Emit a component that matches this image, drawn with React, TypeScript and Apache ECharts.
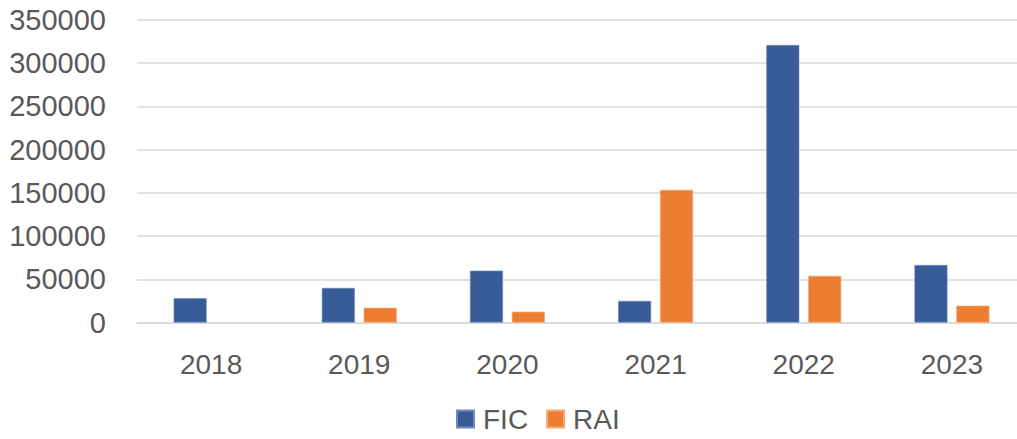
import React, { useEffect, useRef } from "react";
import * as echarts from "echarts";

const categories = ["2018", "2019", "2020", "2021", "2022", "2023"];
const ficValues = [28000, 40000, 60000, 25000, 321000, 66500];
const raiValues = [null, 17000, 12500, 153500, 54000, 19500];
const yTicks = [0, 50000, 100000, 150000, 200000, 250000, 300000, 350000];

export default function App() {
  const ref = useRef<HTMLDivElement>(null);
  useEffect(() => {
    if (!ref.current) return;
    const chart = echarts.init(ref.current, null, { renderer: "svg" });
    const font = "'Liberation Sans', Arial, sans-serif";
    chart.setOption({
      animation: false,
      backgroundColor: "#ffffff",
      textStyle: { fontFamily: font },
      grid: { left: 137, top: 20, width: 889, height: 302.5, containLabel: false },
      legend: {
        bottom: 1,
        left: 451,
        itemWidth: 17,
        itemHeight: 17,
        itemGap: 18,
        icon: "rect",
        textStyle: { fontSize: 28, color: "#595959", fontFamily: font, padding: [0, 0, 0, 4] },
        data: ["FIC", "RAI"],
      },
      xAxis: {
        type: "category",
        data: categories,
        axisLine: { show: true, lineStyle: { color: "#D9D9D9", width: 1.5 } },
        axisTick: { show: false },
        axisLabel: { fontSize: 28, color: "#595959", margin: 28, fontFamily: font },
      },
      yAxis: {
        type: "value",
        min: yTicks[0],
        max: yTicks[yTicks.length - 1],
        interval: 50000,
        axisLine: { show: false },
        axisTick: { show: false },
        splitLine: { lineStyle: { color: "#D9D9D9", width: 1.5 } },
        axisLabel: {
          fontSize: 29,
          color: "#595959",
          margin: 31,
          fontFamily: font,
          formatter: (v: number) => String(v),
        },
      },
      series: [
        {
          name: "FIC",
          type: "bar",
          data: ficValues,
          barWidth: 33,
          barGap: "27%",
          itemStyle: { color: "#385C98", borderColor: "#6F8BB8", borderWidth: 0.6 },
        },
        {
          name: "RAI",
          type: "bar",
          data: raiValues,
          barWidth: 33,
          barGap: "27%",
          itemStyle: { color: "#ED7D31", borderColor: "#F4A878", borderWidth: 0.6 },
        },
      ],
    });
    return () => chart.dispose();
  }, []);
  return (
    <div style={{ position: "fixed", left: 0, top: 0, width: 1017, height: 439, overflow: "hidden", background: "#fff" }}>
      <div ref={ref} style={{ width: 1030, height: 439 }} />
    </div>
  );
}
